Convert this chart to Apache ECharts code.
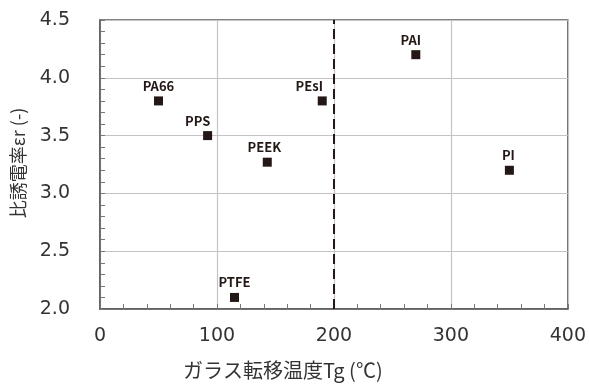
<!DOCTYPE html>
<html>
<head>
<meta charset="utf-8">
<script src="https://cdn.jsdelivr.net/npm/echarts@6/dist/echarts.min.js"></script>
<style>html,body{margin:0;padding:0;background:#fff}#c{width:589px;height:385px}</style>
</head>
<body>
<div id="c"></div>
<script>
const materials = ['PA66', 'PPS', 'PEEK', 'PEsI', 'PTFE', 'PAI', 'PI'];
const glassTransitionTg = [50, 92, 143, 190, 115, 270, 350];
const dielectricConstant = [3.8, 3.5, 3.27, 3.8, 2.1, 4.2, 3.2];
const thresholdTg = 200;
const xTicks = [0, 100, 200, 300, 400];
const yTicks = [2.0, 2.5, 3.0, 3.5, 4.0, 4.5];
const xTitle = 'ガラス転移温度Tg (℃)';
const yTitle = '比誘電率εr (-)';

const labelShift = { PPS: -10, PEsI: -13, PEEK: -3, PAI: -5, PI: -1 };
const ink = '#231815';
const data = materials.map((m, i) => ({
  name: m,
  value: [glassTransitionTg[i], dielectricConstant[i]],
  label: { offset: [labelShift[m] || 0, 0] }
}));

const axisCommon = {
  axisLine: { show: true, lineStyle: { color: '#5a5a5a', width: 1.5 } },
  axisTick: { show: true, inside: true, length: 5, lineStyle: { color: '#777', width: 1 } },
  minorTick: { show: true, splitNumber: 5, length: 5, lineStyle: { color: '#777', width: 1 } },
  splitLine: { show: true, lineStyle: { color: '#c4c4c4', width: 1.2 } }
};

const chart = echarts.init(document.getElementById('c'), null, { renderer: 'canvas' });
chart.setOption({
  animation: false,
  grid: { left: 100, right: 18, top: 20, bottom: 76, show: true, borderColor: '#5a5a5a', borderWidth: 1.5, backgroundColor: 'transparent' },
  xAxis: Object.assign({
    type: 'value', min: xTicks[0], max: xTicks[xTicks.length - 1], interval: 100,
    axisLabel: { fontFamily: 'DejaVu Sans', fontSize: 19, color: '#333', margin: 18 }
  }, axisCommon),
  yAxis: Object.assign({
    type: 'value', min: yTicks[0], max: yTicks[yTicks.length - 1], interval: 0.5,
    axisLabel: { fontFamily: 'DejaVu Sans', fontSize: 19, color: '#333', margin: 30, formatter: v => v.toFixed(1) }
  }, axisCommon),
  series: [{
    type: 'scatter',
    symbol: 'rect',
    symbolSize: 9,
    itemStyle: { color: ink, opacity: 1 },
    emphasis: { disabled: true },
    data: data,
    label: {
      show: true, position: 'top', distance: 4,
      formatter: p => p.name,
      fontFamily: 'Noto Sans CJK JP', fontWeight: 'bold', fontSize: 13, color: ink, opacity: 1
    },
    markLine: {
      silent: true, symbol: 'none', label: { show: false },
      lineStyle: { color: ink, type: [10, 5], width: 2, opacity: 1 },
      data: [{ xAxis: thresholdTg }]
    }
  }],
  graphic: [
    { type: 'text', left: 183, top: 360, style: { text: xTitle, font: '20px "Noto Sans CJK JP"', fill: '#333' } },
    { type: 'text', x: 18, y: 163, rotation: Math.PI / 2, style: { text: yTitle, font: '18px "Noto Sans CJK JP"', fill: '#333', align: 'center', verticalAlign: 'middle' } }
  ]
});
</script>
</body>
</html>
